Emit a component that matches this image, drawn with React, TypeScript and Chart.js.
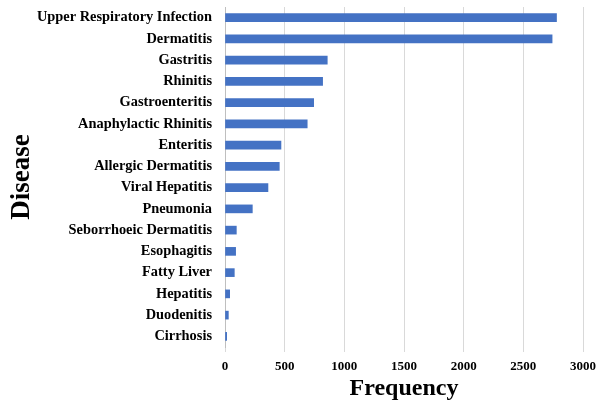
import React, { useEffect, useRef } from "react";
import { Chart, registerables } from "chart.js";

Chart.register(...registerables);

const diseases = [
  "Upper Respiratory Infection",
  "Dermatitis",
  "Gastritis",
  "Rhinitis",
  "Gastroenteritis",
  "Anaphylactic Rhinitis",
  "Enteritis",
  "Allergic Dermatitis",
  "Viral Hepatitis",
  "Pneumonia",
  "Seborrhoeic Dermatitis",
  "Esophagitis",
  "Fatty Liver",
  "Hepatitis",
  "Duodenitis",
  "Cirrhosis",
];

const frequency = [2778, 2741, 857, 818, 743, 689, 469, 455, 360, 229, 95, 89, 78, 39, 28, 14];

const xMin = 0;
const xMax = 3000;
const xStep = 500;

export default function App() {
  const ref = useRef<HTMLCanvasElement | null>(null);
  useEffect(() => {
    if (!ref.current) return;
    const font = "'Liberation Serif', 'Times New Roman', serif";
    const chart = new Chart(ref.current, {
      type: "bar",
      data: {
        labels: diseases,
        datasets: [
          {
            data: frequency,
            backgroundColor: "#4472C4",
            barThickness: 8,
          },
        ],
      },
      options: {
        indexAxis: "y",
        animation: false,
        responsive: false,
        layout: { autoPadding: false, padding: { top: 7, right: 15, left: 6, bottom: 0 } },
        plugins: { legend: { display: false }, tooltip: { enabled: false } },
        scales: {
          x: {
            min: xMin,
            max: xMax,
            ticks: {
              stepSize: xStep,
              color: "#000",
              font: { family: font, size: 13, weight: "bold" },
              padding: 7,
              callback: (v: any) => String(v),
            },
            grid: { color: "#d9d9d9", tickLength: 5, drawTicks: true },
            border: { display: false },
            title: {
              display: true,
              text: "Frequency",
              color: "#000",
              font: { family: font, size: 24, weight: "bold" },
              padding: { top: 0, bottom: 0 },
            },
            afterFit: (scale: any) => {
              scale.height = 56;
              scale.paddingLeft = 0;
              scale.paddingRight = 0;
            },
          },
          y: {
            ticks: {
              color: "#000",
              font: { family: font, size: 14.4, weight: "bold", lineHeight: 1 },
              padding: 0,
            },
            grid: {
              display: true,
              drawOnChartArea: false,
              drawTicks: true,
              tickLength: 13,
              color: "rgba(0,0,0,0)",
            },
            border: { display: true, color: "#bfbfbf" },
            title: {
              display: true,
              text: "Disease",
              color: "#000",
              font: { family: font, size: 27, weight: "bold" },
              padding: 0,
            },
            afterFit: (scale: any) => {
              scale.width = 219;
              scale.paddingTop = 0;
              scale.paddingBottom = 0;
            },
          },
        },
      },
    });
    return () => chart.destroy();
  }, []);
  return (
    <div style={{ position: "absolute", left: 0, top: 0, width: 598, height: 403, background: "#fff" }}>
      <canvas ref={ref} width={598} height={403} />
    </div>
  );
}
